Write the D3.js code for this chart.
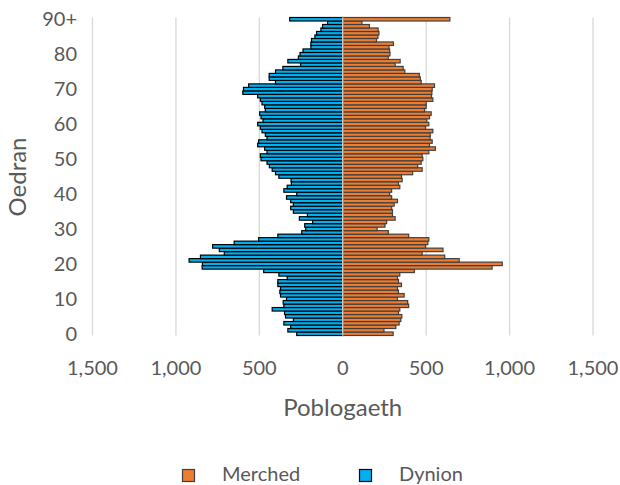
<!DOCTYPE html>
<html>
<head>
<meta charset="utf-8">
<script src="https://cdn.jsdelivr.net/npm/d3@7"></script>
<style>
  body { margin: 0; background: #fff; }
  svg { display: block; font-family: Lato, "Open Sans", sans-serif; }
</style>
</head>
<body>
<div id="chart"></div>
<script>
// age categories, 0 .. 90+
const ageLabels = d3.range(0, 90).map(String).concat(["90+"]);

// Dynion (men), drawn to the left, ages 0..90+
const dynion = [
  276, 329, 312, 353, 296, 343, 349, 423, 353, 357,
  337, 373, 377, 373, 389, 389, 333, 383, 474, 843,
  841, 921, 853, 710, 740, 780, 651, 504, 389, 246,
  222, 228, 181, 260, 212, 296, 312, 296, 312, 337,
  276, 353, 333, 308, 310, 383, 403, 423, 440, 454,
  490, 494, 454, 468, 510, 504, 454, 464, 484, 494,
  510, 478, 490, 498, 464, 468, 484, 494, 510, 599,
  595, 564, 403, 441, 441, 403, 359, 252, 329, 266,
  256, 238, 191, 191, 187, 167, 157, 131, 121, 91,
  318
];

// Merched (women), drawn to the right, ages 0..90+
const merched = [
  302, 247, 318, 338, 348, 354, 334, 342, 395, 389,
  328, 368, 334, 328, 352, 334, 328, 342, 429, 895,
  956, 698, 611, 476, 601, 496, 510, 516, 395, 273,
  206, 253, 263, 314, 298, 298, 293, 308, 328, 293,
  281, 293, 342, 334, 356, 352, 419, 476, 449, 470,
  480, 476, 516, 555, 520, 536, 524, 524, 540, 496,
  516, 504, 520, 530, 490, 500, 500, 540, 532, 534,
  536, 550, 470, 465, 459, 372, 362, 314, 344, 273,
  283, 281, 277, 304, 202, 211, 217, 212, 160, 115,
  642
];

const xTicks = [-1500, -1000, -500, 0, 500, 1000, 1500];
const yTickLabels = ["0", "10", "20", "30", "40", "50", "60", "70", "80", "90+"];

const width = 620, height = 485;
const textColor = "#595959";
const gridColor = "#d9d9d9";

const svg = d3.select("#chart").append("svg")
  .attr("width", width)
  .attr("height", height);

const x = d3.scaleLinear().domain([-1500, 1500]).range([92.5, 593]);
const y = d3.scaleBand().domain(ageLabels).range([335.5, 17.5]).padding(0);

// vertical gridlines
svg.append("g").selectAll("line")
  .data(xTicks.filter(d => d !== 0))
  .join("line")
  .attr("x1", d => x(d)).attr("x2", d => x(d))
  .attr("y1", 17.5).attr("y2", 335.5)
  .attr("stroke", gridColor).attr("stroke-width", 1.3);

// men bars (left)
svg.append("g").selectAll("rect")
  .data(dynion)
  .join("rect")
  .attr("x", d => x(-d))
  .attr("y", (d, i) => y(ageLabels[i]))
  .attr("width", d => x(0) - x(-d))
  .attr("height", y.bandwidth())
  .attr("fill", "#00b0f0")
  .attr("stroke", "#000")
  .attr("stroke-width", 1.2);

// women bars (right)
svg.append("g").selectAll("rect")
  .data(merched)
  .join("rect")
  .attr("x", x(0))
  .attr("y", (d, i) => y(ageLabels[i]))
  .attr("width", d => x(d) - x(0))
  .attr("height", y.bandwidth())
  .attr("fill", "#ed7d31")
  .attr("stroke", "#404040")
  .attr("stroke-width", 1.2);

// category axis line at zero
svg.append("line")
  .attr("x1", x(0)).attr("x2", x(0))
  .attr("y1", 17.5).attr("y2", 335.5)
  .attr("stroke", gridColor).attr("stroke-width", 1.3);

// y tick labels
svg.append("g").selectAll("text")
  .data(yTickLabels)
  .join("text")
  .attr("x", 77)
  .attr("y", d => y(d) + y.bandwidth() / 2)
  .attr("dy", "0.35em")
  .attr("text-anchor", "end")
  .attr("font-size", 20)
  .attr("fill", textColor)
  .text(d => d);

// x tick labels
svg.append("g").selectAll("text")
  .data(xTicks)
  .join("text")
  .attr("x", d => x(d))
  .attr("y", 375)
  .attr("text-anchor", "middle")
  .attr("font-size", 20)
  .attr("fill", textColor)
  .text(d => d3.format(",")(Math.abs(d)));

// axis titles
svg.append("text")
  .attr("x", x(0)).attr("y", 416)
  .attr("text-anchor", "middle")
  .attr("font-size", 24)
  .attr("fill", textColor)
  .text("Poblogaeth");

svg.append("text")
  .attr("transform", "translate(26,177) rotate(-90)")
  .attr("text-anchor", "middle")
  .attr("font-size", 24)
  .attr("fill", textColor)
  .text("Oedran");

// legend
const legendItems = [
  { name: "Merched", fill: "#ed7d31", stroke: "#404040", x: 182 },
  { name: "Dynion", fill: "#00b0f0", stroke: "#000", x: 359 }
];
const legend = svg.append("g").selectAll("g")
  .data(legendItems)
  .join("g")
  .attr("transform", d => `translate(${d.x},469)`);
legend.append("rect")
  .attr("x", 0.5).attr("y", 0.5)
  .attr("width", 12).attr("height", 12)
  .attr("fill", d => d.fill)
  .attr("stroke", d => d.stroke)
  .attr("stroke-width", 1.2);
legend.append("text")
  .attr("x", 40).attr("y", 12)
  .attr("font-size", 20)
  .attr("fill", textColor)
  .text(d => d.name);
</script>
</body>
</html>
